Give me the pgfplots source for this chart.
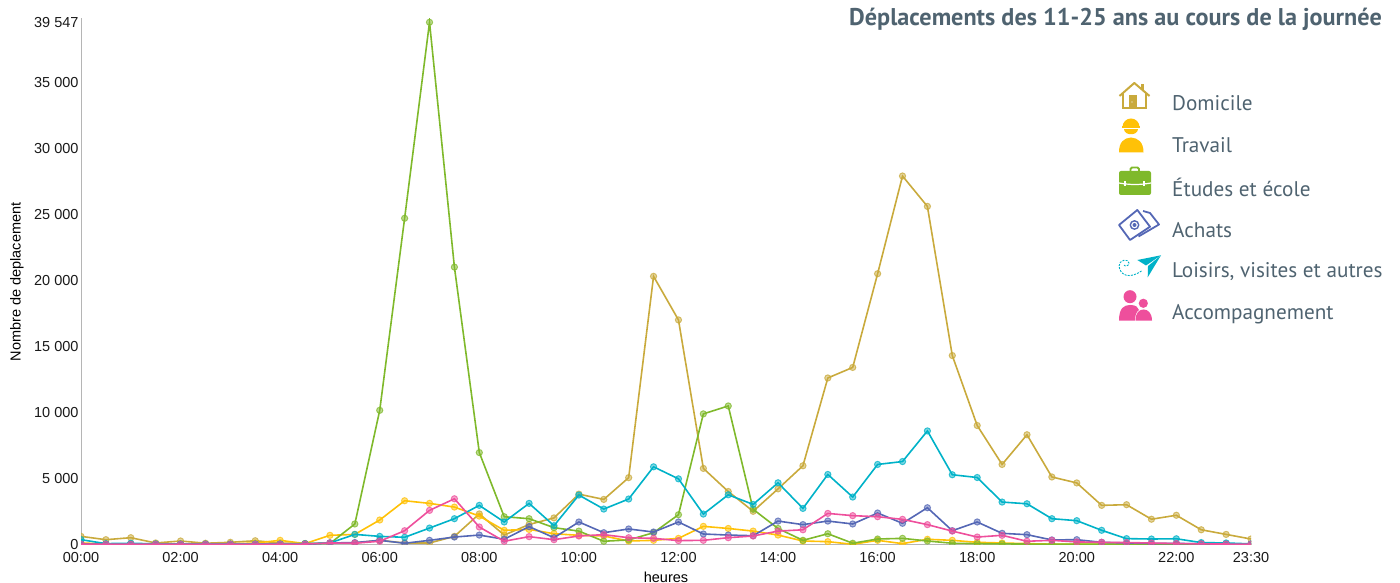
\documentclass[border=0pt]{standalone}
\usepackage{fontspec}
\setmainfont{Liberation Sans}
\newfontfamily\tit{PT Sans}
\usepackage{pgfplots}
\pgfplotsset{compat=1.18}
\definecolor{cdom}{HTML}{C9AA3C}
\definecolor{ctra}{HTML}{FFC107}
\definecolor{cetu}{HTML}{7FB92B}
\definecolor{cach}{HTML}{5467B5}
\definecolor{cloi}{HTML}{00B2C8}
\definecolor{cacc}{HTML}{EE4F9C}
\definecolor{ctxt}{HTML}{4F6370}
\definecolor{caxis}{HTML}{B5B5B5}
\pgfplotstableread{
h dom tra etu ach loi acc
0 600 100 0 0 350 0
0.5 350 30 0 0 50 0
1 500 30 0 0 80 0
1.5 100 20 0 0 30 0
2 250 30 0 0 20 0
2.5 80 20 0 0 20 0
3 150 30 0 0 20 0
3.5 270 100 0 0 30 0
4 100 300 0 0 30 0
4.5 50 50 50 0 50 20
5 100 680 60 100 100 100
5.5 100 750 1540 130 750 80
6 300 1840 10150 300 600 230
6.5 100 3300 24700 80 530 1030
7 100 3100 39547 300 1230 2570
7.5 600 2820 21000 550 1940 3450
8 2300 2140 6950 700 2950 1310
8.5 700 1060 2090 380 1690 230
9 1500 1130 1940 1340 3100 580
9.5 2000 800 1260 500 1410 350
10 3800 680 1000 1690 3730 630
10.5 3400 630 230 880 2670 730
11 5050 250 330 1160 3430 500
11.5 20300 300 880 930 5870 450
12 17000 450 2240 1690 4960 280
12.5 5750 1360 9880 780 2290 300
13 4000 1200 10480 700 3750 500
13.5 2500 1000 2650 650 3020 630
14 4200 700 1200 1760 4660 1000
14.5 5950 250 300 1490 2720 1100
15 12600 200 800 1760 5290 2340
15.5 13400 0 80 1540 3580 2170
16 20500 300 400 2370 6050 2090
16.5 27900 50 450 1590 6270 1890
17 25600 380 250 2770 8590 1490
17.5 14300 300 80 1030 5270 1000
18 9000 150 50 1690 5060 550
18.5 6050 100 30 830 3200 680
19 8300 50 20 730 3070 230
19.5 5100 10 10 330 1940 300
20 4650 10 10 350 1790 180
20.5 2950 10 10 150 1060 150
21 3000 10 10 100 430 130
21.5 1900 10 10 60 400 100
22 2200 10 10 60 420 60
22.5 1100 10 10 50 130 30
23 750 10 10 30 100 20
23.5 400 10 10 20 30 10
}\datatable
\pgfplotsset{ser/.style={line width=1.6pt,mark=*,mark size=3.1pt,color=#1,
  mark options={fill=#1,fill opacity=0.5,draw=#1,line width=1pt,draw opacity=0.75}}}
\begin{document}
\begin{tikzpicture}[x=1pt,y=1pt]
\path[use as bounding box] (0,0) rectangle (1400,583);
\begin{axis}[
  at={(81pt,38.7pt)},anchor=origin,scale only axis,
  width=1170pt,height=526pt,
  xmin=0,xmax=23.5,ymin=0,ymax=39850,
  clip marker paths=true,
  axis lines=left,axis line style={draw=caxis,line width=0.8pt,-},
  tick style={draw=none},major tick length=0pt,
  scaled y ticks=false,
  xtick={0,2,4,6,8,10,12,14,16,18,20,22,23.5},
  xticklabels={00:00,02:00,04:00,06:00,08:00,10:00,12:00,14:00,16:00,18:00,20:00,22:00,23:30},
  ytick={0,5000,10000,15000,20000,25000,30000,35000,39547},
  yticklabels={0,5 000,10 000,15 000,20 000,25 000,30 000,35 000,39 547},
  tick label style={font=\fontsize{14.5}{16}\selectfont,text=black!90},
  xticklabel style={yshift=-5pt},
  yticklabel style={xshift=1pt},
]
\addplot[ser=cdom] table[x=h,y=dom] {\datatable};
\addplot[ser=ctra] table[x=h,y=tra] {\datatable};
\addplot[ser=cetu] table[x=h,y=etu] {\datatable};
\addplot[ser=cach] table[x=h,y=ach] {\datatable};
\addplot[ser=cloi] table[x=h,y=loi] {\datatable};
\addplot[ser=cacc] table[x=h,y=acc] {\datatable};
\end{axis}
\begin{scope}[yshift=583pt,y=-1pt]
\node[anchor=center,font=\fontsize{14.5}{16}\selectfont] at (666,577) {heures};
\node[anchor=center,rotate=90,font=\fontsize{14.5}{16}\selectfont] at (17,282) {Nombre de deplacement};
\node[anchor=east,inner sep=0pt,text=ctxt,font=\tit\bfseries\fontsize{24.2}{28}\selectfont] at (1382,19.5) {Déplacements des 11-25 ans au cours de la journée};
\foreach \yy/\tt in {103/Domicile,145/Travail,187/Études et école,230/Achats,272/{Loisirs, visites et autres},314.5/Accompagnement}
  \node[anchor=west,inner sep=0pt,text=ctxt,font=\tit\fontsize{21.2}{26}\selectfont] at (1172,\yy) {\tt};
% house
\draw[cdom,line width=2pt,join=round] (1119.5,96) -- (1134.3,83) -- (1149.5,96);
\draw[cdom,line width=2pt] (1123,93) -- (1123,108.5) -- (1146,108.5) -- (1146,93);
\fill[cdom] (1129,95) rectangle (1137,109);
\fill[cdom] (1141,84) rectangle (1144,90);
\fill[white] (1132,102) circle (0.6);
% worker
\fill[ctra] (1122.5,127) arc[start angle=180,end angle=360,radius=8.5] -- cycle;
\fill[ctra] (1122,126.5) rectangle (1139.5,128.5);
\fill[ctra] (1124,129) .. controls (1124,136) and (1138,136) .. (1138,129) -- cycle;
\fill[ctra] (1119,152.3) .. controls (1119,142) and (1124,138) .. (1131,137.5) .. controls (1138,138) and (1143.5,142) .. (1143.5,152.3) -- cycle;
% briefcase
\draw[cetu,line width=1.8pt,rounded corners=1.5pt] (1130.5,171) -- (1130.5,167.5) -- (1139,167.5) -- (1139,171);
\fill[cetu,rounded corners=2pt] (1119,171) rectangle (1151,195);
\draw[white,line width=1.2pt] (1119,183) .. controls (1130,185) and (1140,185) .. (1151,183);
\draw[white,line width=1.2pt] (1125,181.5) -- (1125,186) (1144,181.5) -- (1144,186);
% banknotes
\draw[cach,line width=1.8pt,join=round] (1119,225) -- (1137.3,210) -- (1150,226.7) -- (1130,240) -- cycle;
\draw[cach,line width=1.8pt,join=round] (1143,211) -- (1150,213) -- (1159,224.5) -- (1138.5,236.5);
\draw[cach,line width=1.4pt] (1134.5,225) circle (4.2);
\fill[cach] (1134.5,225) circle (2);
% plane
\fill[cloi] (1161,255.3) -- (1137.3,260) -- (1146,265.5) -- cycle;
\fill[cloi] (1161,255.3) -- (1148,266) -- (1147.7,277.3) -- cycle;
\draw[cloi,line width=0.9pt,dash pattern=on 2pt off 1.2pt] (1141.5,271) .. controls (1130,279) and (1120,276) .. (1119,266) .. controls (1119,260) and (1128,258) .. (1129,263) .. controls (1129,266) and (1125,267) .. (1124,265);
% people
\fill[cacc] (1130,296.7) circle (6.5);
\fill[cacc] (1119,320.7) .. controls (1119,308) and (1124,305) .. (1130,305) .. controls (1136,305) and (1138,307) .. (1139,310) .. controls (1136,312) and (1135,316) .. (1135,320.7) -- cycle;
\fill[cacc] (1143.3,303.3) circle (4.6);
\fill[cacc] (1135.5,320.7) .. controls (1135.5,313) and (1139,309.5) .. (1143.5,309.5) .. controls (1148,309.5) and (1152,313) .. (1152,320.7) -- cycle;
\end{scope}
\end{tikzpicture}
\end{document}
